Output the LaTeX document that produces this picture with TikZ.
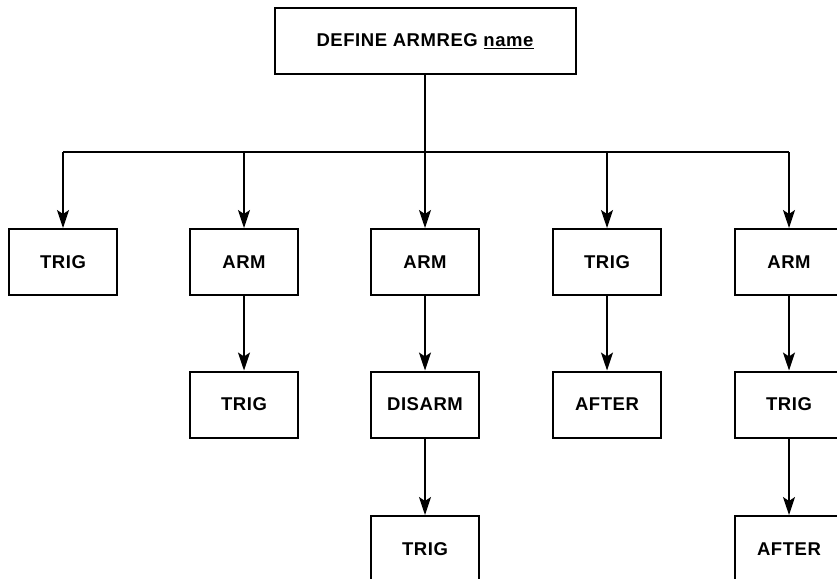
\documentclass[tikz,border=0pt]{standalone}
\usepackage{fontspec}
\setmainfont{Liberation Sans}[LetterSpace=3]
\usetikzlibrary{arrows.meta}
\begin{document}
\begin{tikzpicture}[x=1pt,y=-1pt,
  box/.style={draw, line width=2pt, minimum width=108pt, minimum height=66pt, inner sep=0pt,
    font=\fontsize{18.5}{20}\selectfont\bfseries},
  conn/.style={line width=1.2pt, -{Stealth[length=18pt,width=12pt,inset=4pt]}},
  bar/.style={line width=1.2pt}]
\useasboundingbox (0,0) rectangle (837,578);
\clip (0,0) rectangle (837,578);
\node[box, minimum width=301pt] (top) at (425,41) {DEFINE ARMREG \underline{name}};
% row 1
\node[box] (a1) at (63,262) {TRIG};
\node[box] (b1) at (244,262) {ARM};
\node[box] (c1) at (425,262) {ARM};
\node[box] (d1) at (607,262) {TRIG};
\node[box] (e1) at (789,262) {ARM};
% row 2
\node[box] (b2) at (244,404.5) {TRIG};
\node[box] (c2) at (425,404.5) {DISARM};
\node[box] (d2) at (607,404.5) {AFTER};
\node[box] (e2) at (789,404.5) {TRIG};
% row 3
\node[box] (c3) at (425,549) {TRIG};
\node[box] (e3) at (789,549) {AFTER};
% bar
\coordinate (ba) at (63,152);
\coordinate (bb) at (244,152);
\coordinate (bd) at (607,152);
\coordinate (be) at (789,152);
\draw[bar] (ba) -- (be);
\draw[conn] (top) -- (c1);
\draw[conn] (ba) -- (a1);
\draw[conn] (bb) -- (b1);
\draw[conn] (bd) -- (d1);
\draw[conn] (be) -- (e1);
\draw[conn] (b1) -- (b2);
\draw[conn] (c1) -- (c2);
\draw[conn] (c2) -- (c3);
\draw[conn] (d1) -- (d2);
\draw[conn] (e1) -- (e2);
\draw[conn] (e2) -- (e3);
\end{tikzpicture}
\end{document}
